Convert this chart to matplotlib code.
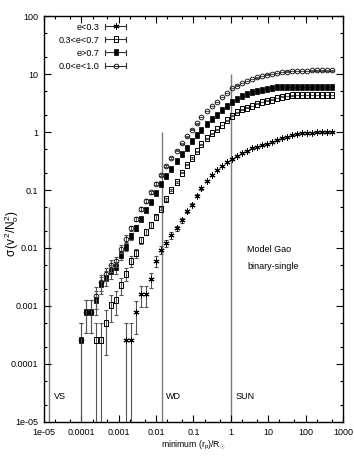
import matplotlib
matplotlib.use("Agg")
import matplotlib.pyplot as plt
import numpy as np
from matplotlib.lines import Line2D
from matplotlib.legend_handler import HandlerBase
from matplotlib import font_manager

# ---------------- data ----------------
x_grid = [1.00e-4, 1.36e-4, 1.85e-4, 2.52e-4, 3.44e-4, 4.68e-4, 6.37e-4, 8.67e-4,
          1.18e-3, 1.61e-3, 2.19e-3, 2.98e-3, 4.06e-3, 5.52e-3, 7.52e-3,
          1.02e-2, 1.39e-2, 1.90e-2, 2.58e-2, 3.52e-2, 4.79e-2, 6.52e-2, 8.87e-2,
          0.121, 0.164, 0.224, 0.305, 0.415, 0.565, 0.769,
          1.05, 1.43, 1.94, 2.64, 3.60, 4.90, 6.67, 9.08,
          12.4, 16.8, 22.9, 31.2, 42.5, 57.8, 78.7,
          107.0, 146.0, 199.0, 270.0, 368.0, 501.0]

# e < 0.3  (starts at grid index 9)
low_start = 9
sigma_low = [2.57e-4, 2.57e-4, 7.76e-4, 1.58e-3, 1.58e-3, 2.88e-3, 6.03e-3, 9.33e-3,
             1.20e-2, 1.66e-2, 2.19e-2, 3.02e-2, 4.27e-2, 5.62e-2, 7.94e-2,
             0.107, 0.145, 0.182, 0.219, 0.257, 0.302, 0.339, 0.389, 0.427, 0.479,
             0.525, 0.562, 0.603, 0.631, 0.661, 0.724, 0.776, 0.832, 0.891, 0.933,
             0.955, 0.977, 0.977, 1.0, 1.0, 1.0, 1.0]

# 0.3 < e < 0.7  (starts at grid index 3)
mid_start = 3
sigma_mid = [2.57e-4, 2.57e-4, 5.0e-4, 1.05e-3, 1.26e-3, 2.29e-3, 3.63e-3, 6.03e-3,
             8.13e-3, 1.38e-2, 1.91e-2, 2.51e-2, 3.39e-2, 4.79e-2, 6.92e-2, 0.100,
             0.138, 0.200, 0.275, 0.355, 0.468, 0.617, 0.776, 0.955, 1.12, 1.32,
             1.58, 1.91, 2.19, 2.45, 2.63, 2.82, 3.09, 3.31, 3.47, 3.63, 3.89,
             4.07, 4.17, 4.27, 4.37, 4.37, 4.37, 4.37, 4.37, 4.37, 4.37, 4.37]

# e > 0.7  (starts at grid index 0)
high_start = 0
sigma_high = [2.57e-4, 7.94e-4, 7.94e-4, 1.26e-3, 2.40e-3, 3.09e-3, 3.98e-3, 4.68e-3,
              7.59e-3, 1.05e-2, 1.58e-2, 2.24e-2, 3.16e-2, 4.47e-2, 6.31e-2,
              8.91e-2, 0.126, 0.174, 0.234, 0.316, 0.417, 0.537, 0.692, 0.871,
              1.10, 1.35, 1.66, 2.00, 2.40, 2.82, 3.31, 3.72, 4.17, 4.57, 4.90,
              5.13, 5.37, 5.62, 5.75, 5.89, 6.0, 6.0, 6.03, 6.03, 6.03, 6.05,
              6.05, 6.05, 6.05, 6.05, 6.05]

# 0.0 < e < 1.0  (starts at grid index 0)
all_start = 0
sigma_all = [2.57e-4, 7.94e-4, 7.94e-4, 1.51e-3, 2.63e-3, 3.63e-3, 5.01e-3, 5.89e-3,
             9.77e-3, 1.45e-2, 2.19e-2, 3.16e-2, 4.68e-2, 6.46e-2, 9.12e-2,
             0.129, 0.182, 0.257, 0.355, 0.479, 0.646, 0.851, 1.10, 1.41, 1.82,
             2.29, 2.82, 3.31, 3.98, 4.68, 5.75, 6.31, 7.08, 7.59, 8.32, 8.71,
             9.33, 9.77, 10.0, 10.5, 10.7, 11.0, 11.2, 11.3, 11.4, 11.4, 11.5,
             11.5, 11.5, 11.5, 11.5]

# value of a single event (lowest plotted level); error bars are Poisson
one_event = 2.57e-4

series_labels = ["e<0.3", "0.3<e<0.7", "e>0.7", "0.0<e<1.0"]

ref_lines_x = [1.4e-5, 0.014, 1.0]
ref_lines_top = [0.05, 1.0, 10.0]
ref_labels = ["VS", "WD", "SUN"]

xticks = [1e-5, 1e-4, 1e-3, 1e-2, 1e-1, 1, 10, 100, 1000]
xtick_labels = ["1e-05", "0.0001", "0.001", "0.01", "0.1", "1", "10", "100", "1000"]
yticks = [1e-5, 1e-4, 1e-3, 1e-2, 1e-1, 1, 10, 100]
ytick_labels = ["1e-05", "0.0001", "0.001", "0.01", "0.1", "1", "10", "100"]

# ---------------- style ----------------
names = {f.name for f in font_manager.fontManager.ttflist}
base_font = "Liberation Sans Narrow" if "Liberation Sans Narrow" in names else "Liberation Sans"
plt.rcParams["font.family"] = [base_font, "DejaVu Sans"]
plt.rcParams["mathtext.fontset"] = "custom"
plt.rcParams["mathtext.rm"] = base_font
plt.rcParams["mathtext.it"] = base_font
plt.rcParams["mathtext.sf"] = base_font

FS = 6.5

fig = plt.figure(figsize=(3.54, 4.63), dpi=100)
ax = fig.add_axes([0.124, 0.0886, 0.845, 0.8768])
ax.set_xscale("log")
ax.set_yscale("log")

rect_marker = [(-0.55, -1), (0.55, -1), (0.55, 1), (-0.55, 1), (-0.55, -1)]

styles = [
    dict(marker=(6, 2, 0), ms=4.3, mfc="black", mec="black", mew=0.7),
    dict(marker=rect_marker, ms=4.4, mfc="none", mec="black", mew=0.7),
    dict(marker=rect_marker, ms=4.4, mfc="black", mec="black", mew=0.5),
    dict(marker="o", ms=3.4, mfc="none", mec="black", mew=0.6),
]

data = [
    (x_grid[low_start:low_start + len(sigma_low)], sigma_low),
    (x_grid[mid_start:mid_start + len(sigma_mid)], sigma_mid),
    (x_grid[high_start:high_start + len(sigma_high)], sigma_high),
    (x_grid[all_start:all_start + len(sigma_all)], sigma_all),
]

for i, ((xs, ys), st) in enumerate(zip(data, styles)):
    ys = np.array(ys)
    yerr = np.sqrt(ys * one_event)
    ax.errorbar(xs, ys, yerr=yerr, fmt="none", ecolor="#555555",
                elinewidth=0.8, capsize=1.6, capthick=0.8, zorder=2 + i)
    ax.plot(xs, ys, linestyle="none", zorder=3 + i, **st)

# reference vertical lines
ax.vlines(ref_lines_x, 1e-5, ref_lines_top, colors="#7a7a7a", lw=1.0, zorder=1)

ax.set_xlim(1e-5, 1000)
ax.set_ylim(1e-5, 100)

ax.set_xticks(xticks, xtick_labels)
ax.set_yticks(yticks, ytick_labels)
ax.xaxis.set_minor_locator(matplotlib.ticker.LogLocator(base=10, subs=[2, 5], numticks=20))
ax.yaxis.set_minor_locator(matplotlib.ticker.LogLocator(base=10, subs=[2, 5], numticks=20))
ax.xaxis.set_minor_formatter(matplotlib.ticker.NullFormatter())
ax.yaxis.set_minor_formatter(matplotlib.ticker.NullFormatter())
ax.tick_params(which="both", direction="in", top=True, right=True, labelsize=FS, width=0.8)
ax.tick_params(which="major", length=5)
ax.tick_params(which="minor", length=2.5)
ax.tick_params(axis="x", pad=4)
ax.tick_params(axis="y", pad=4)
for sp in ax.spines.values():
    sp.set_linewidth(1.0)

ax.set_xlabel(r"minimum $(r_{\rm p})/R_{\odot}$", fontsize=6.2, va="center")
ax.set_ylabel(r"$\sigma\,(v^2/N_{\rm o}^2)$", fontsize=8.5, va="center")
ax.xaxis.set_label_coords(0.5, -0.057)
ax.yaxis.set_label_coords(-0.108, 0.465)

# region labels
ax.text(0.033, 0.062, ref_labels[0], transform=ax.transAxes, fontsize=FS, va="center")
ax.text(0.408, 0.062, ref_labels[1], transform=ax.transAxes, fontsize=FS, va="center")
ax.text(0.642, 0.062, ref_labels[2], transform=ax.transAxes, fontsize=FS, va="center")
ax.text(0.679, 0.426, "Model Gao", transform=ax.transAxes, fontsize=FS, va="center")
ax.text(0.679, 0.382, "binary-single", transform=ax.transAxes, fontsize=FS, va="center")


# legend with horizontal error-bar samples
class HBarHandler(HandlerBase):
    def create_artists(self, legend, orig_handle, xdescent, ydescent, width,
                       height, fontsize, trans):
        y = height / 2 - ydescent
        x0 = -xdescent
        x1 = x0 + width
        h = height * 0.35
        arts = [
            Line2D([x0, x1], [y, y], color="#333333", lw=0.8),
            Line2D([x0, x0], [y - h, y + h], color="#333333", lw=0.8),
            Line2D([x1, x1], [y - h, y + h], color="#333333", lw=0.8),
            Line2D([(x0 + x1) / 2], [y], linestyle="none",
                   marker=orig_handle.get_marker(), ms=orig_handle.get_markersize(),
                   mfc=orig_handle.get_markerfacecolor(),
                   mec=orig_handle.get_markeredgecolor(),
                   mew=orig_handle.get_markeredgewidth()),
        ]
        for a in arts:
            a.set_transform(trans)
        return arts


proxies = [Line2D([], [], linestyle="none", **st) for st in styles]
leg = ax.legend(proxies, series_labels, loc="upper right",
                bbox_to_anchor=(0.276, 0.984), frameon=False, fontsize=FS,
                markerfirst=False, handlelength=2.35, handletextpad=0.6,
                labelspacing=0.45, borderpad=0.0, borderaxespad=0.0,
                handler_map={Line2D: HBarHandler()})

fig.savefig("out.png", dpi=100)
